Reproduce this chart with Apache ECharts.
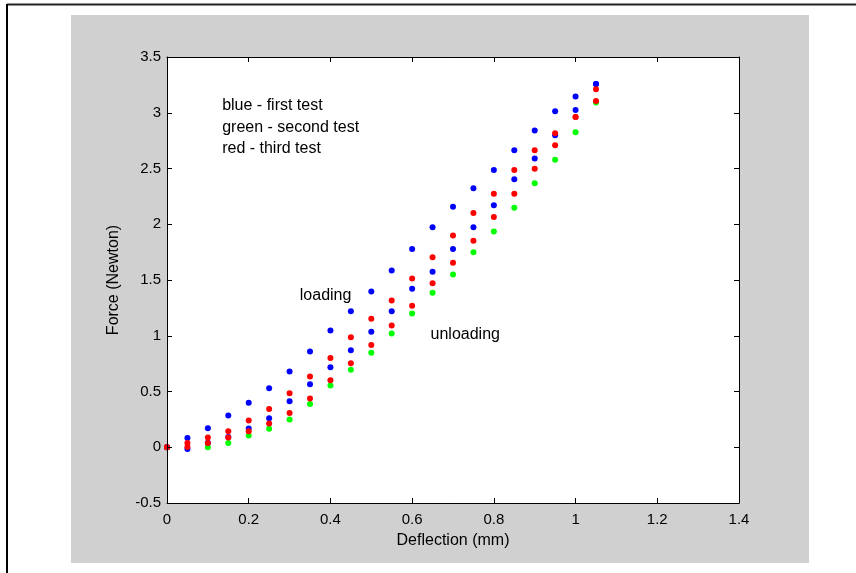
<!DOCTYPE html>
<html>
<head>
<meta charset="utf-8">
<script src="https://cdn.jsdelivr.net/npm/echarts@6/dist/echarts.min.js"></script>
<style>html,body{margin:0;padding:0;background:#fff}#c{width:856px;height:573px}</style>
</head>
<body>
<div id="c"></div>
<script>
const deflection = [0, 0.05, 0.1, 0.15, 0.2, 0.25, 0.3, 0.35, 0.4, 0.45, 0.5, 0.55, 0.6, 0.65, 0.7, 0.75, 0.8, 0.85, 0.9, 0.95, 1.0, 1.05];
const blueLoading   = [0, 0.084, 0.17, 0.284, 0.40, 0.53, 0.68, 0.859, 1.047, 1.22, 1.397, 1.586, 1.777, 1.972, 2.157, 2.322, 2.487, 2.663, 2.84, 3.013, 3.145, 3.258];
const blueUnloading = [0, -0.015, 0.04, 0.093, 0.168, 0.26, 0.413, 0.565, 0.718, 0.87, 1.035, 1.22, 1.421, 1.574, 1.777, 1.972, 2.17, 2.403, 2.59, 2.798, 3.025, 3.258];
const redLoading    = [0, 0.039, 0.087, 0.144, 0.24, 0.344, 0.485, 0.634, 0.80, 0.987, 1.152, 1.317, 1.514, 1.703, 1.90, 2.10, 2.274, 2.487, 2.663, 2.816, 2.962, 3.21];
const redUnloading  = [0, 0.003, 0.039, 0.087, 0.144, 0.213, 0.308, 0.437, 0.601, 0.754, 0.918, 1.092, 1.27, 1.47, 1.655, 1.852, 2.065, 2.274, 2.498, 2.708, 2.962, 3.105];
const greenDeflection = [0.1, 0.15, 0.2, 0.25, 0.3, 0.35, 0.4, 0.45, 0.5, 0.55, 0.6, 0.65, 0.7, 0.75, 0.8, 0.85, 0.9, 0.95, 1.0, 1.05];
const greenTest     = [0.0, 0.039, 0.105, 0.165, 0.248, 0.389, 0.553, 0.694, 0.847, 1.02, 1.20, 1.385, 1.55, 1.75, 1.936, 2.148, 2.367, 2.579, 2.825, 3.092];
const legendLines = ['blue - first test', 'green - second test', 'red - third test'];
const xTicks = {min: 0, max: 1.4, interval: 0.2};
const yTicks = {min: -0.5, max: 3.5, interval: 0.5};

const pair = (xs, ys) => xs.map((x, i) => [x, ys[i]]);
const font = 'Arial, "Liberation Sans", sans-serif';
const chart = echarts.init(document.getElementById('c'), null, {renderer: 'canvas'});

const axisCommon = {
  z: 5,
  axisLine: {show: true, onZero: false, lineStyle: {color: '#000', width: 1}},
  axisTick: {show: true, inside: true, length: 5, lineStyle: {color: '#000', width: 1}},
  splitLine: {show: false},
};
function scatter(name, data, color) {
  return {name, type: 'scatter', data, symbol: 'circle', symbolSize: 6, z: 3,
    itemStyle: {color: color, opacity: 1}, xAxisIndex: 0, yAxisIndex: 0, silent: true};
}

chart.setOption({
  animation: false,
  backgroundColor: '#fff',
  grid: {left: 167, right: 117, top: 57, bottom: 70, show: true, backgroundColor: '#fff', borderWidth: 0, z: 0},
  xAxis: [
    Object.assign({type: 'value', position: 'bottom', min: xTicks.min, max: xTicks.max, interval: xTicks.interval,
      name: 'Deflection (mm)', nameLocation: 'middle', nameGap: 30,
      nameTextStyle: {color: '#000', fontSize: 16, fontFamily: font},
      axisLabel: {color: '#000', fontSize: 15, fontFamily: font, margin: 9}}, axisCommon),
    Object.assign({type: 'value', position: 'top', min: xTicks.min, max: xTicks.max, interval: xTicks.interval,
      axisLabel: {show: false}}, axisCommon)
  ],
  yAxis: [
    Object.assign({type: 'value', position: 'left', min: yTicks.min, max: yTicks.max, interval: yTicks.interval,
      name: 'Force (Newton)', nameLocation: 'middle', nameGap: 45,
      nameTextStyle: {color: '#000', fontSize: 16, fontFamily: font},
      axisLabel: {color: '#000', fontSize: 15, fontFamily: font, margin: 6}}, axisCommon),
    Object.assign({type: 'value', position: 'right', min: yTicks.min, max: yTicks.max, interval: yTicks.interval,
      axisLabel: {show: false}}, axisCommon)
  ],
  series: [
    scatter('green', pair(greenDeflection, greenTest), '#00ff00'),
    scatter('blue unloading', pair(deflection, blueUnloading), '#0000ff'),
    scatter('blue loading', pair(deflection, blueLoading), '#0000ff'),
    scatter('red unloading', pair(deflection, redUnloading), '#ff0000'),
    scatter('red loading', pair(deflection, redLoading), '#ff0000')
  ]
});

const textStyle = (t, x, y) => ({type: 'text', x, y, z: 20,
  style: {text: t, fill: '#000', font: '16px ' + font, textVerticalAlign: 'middle', verticalAlign: 'middle'}});
const p = (x, y) => chart.convertToPixel({xAxisIndex: 0, yAxisIndex: 0}, [x, y]);
const l1 = p(0.135, 3.06), l2 = p(0.135, 2.865), l3 = p(0.135, 2.68);
const pl = p(0.325, 1.36), pu = p(0.645, 1.01);

chart.setOption({
  graphic: [
    {type: 'rect', z: -100, shape: {x: 71, y: 15, width: 738, height: 548}, style: {fill: '#d0d0d0'}},
    {type: 'line', z: 10, shape: {x1: 7, y1: 4.5, x2: 856, y2: 4.5}, style: {stroke: '#222', lineWidth: 2}},
    {type: 'line', z: 10, shape: {x1: 7, y1: 4, x2: 7, y2: 573}, style: {stroke: '#000', lineWidth: 2}},
    textStyle(legendLines[0], l1[0], l1[1]),
    textStyle(legendLines[1], l2[0], l2[1]),
    textStyle(legendLines[2], l3[0], l3[1]),
    textStyle('loading', pl[0], pl[1]),
    textStyle('unloading', pu[0], pu[1])
  ]
});
</script>
</body>
</html>
